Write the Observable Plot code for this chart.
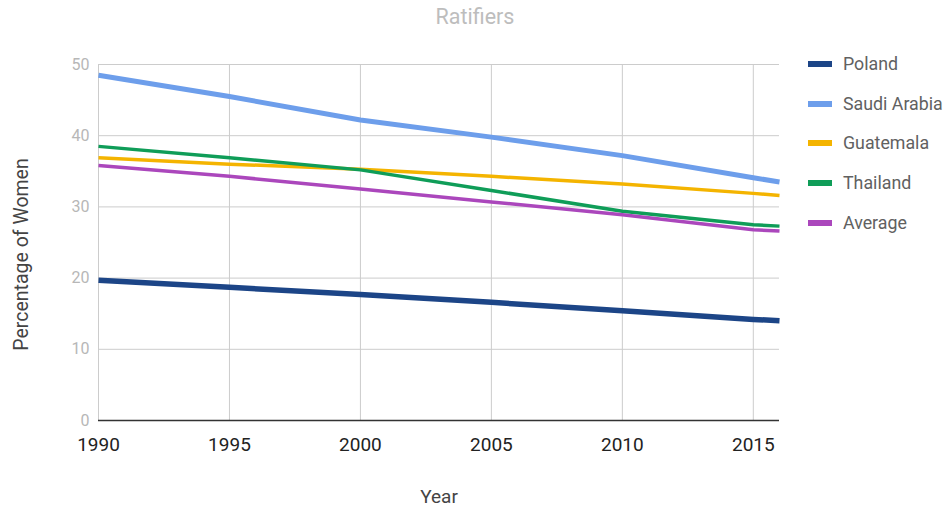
<!DOCTYPE html>
<html>
<head>
<meta charset="utf-8">
<script src="https://cdn.jsdelivr.net/npm/d3@7"></script>
<script src="https://cdn.jsdelivr.net/npm/@observablehq/plot@0.6"></script>
<style>
  html, body { margin: 0; padding: 0; background: #fff; }
  #wrap { position: relative; width: 948px; height: 512px; font-family: Roboto, "Noto Sans", sans-serif; }
  #title { position: absolute; left: 0; width: 950px; top: 4px; text-align: center; font-size: 21.5px; color: #bdbdbd; }
  #legend { position: absolute; left: 808px; top: 0; }
  .item { position: absolute; left: 0; white-space: nowrap; font-size: 17.8px; color: #616161; height: 20px; line-height: 20px; }
  .sw { display: inline-block; width: 24px; height: 6px; vertical-align: middle; margin-right: 11px; position: relative; top: -1px; }
</style>
</head>
<body>
<div id="wrap">
  <div id="chart"></div>
  <div id="title">Ratifiers</div>
  <div id="legend"></div>
</div>
<script>
const years = [1990, 1995, 2000, 2005, 2010, 2015, 2016];
const seriesNames = ["Poland", "Saudi Arabia", "Guatemala", "Thailand", "Average"];
const poland      = [19.7, 18.7, 17.7, 16.6, 15.4, 14.2, 14.0];
const saudiArabia = [48.5, 45.5, 42.2, 39.8, 37.2, 34.1, 33.5];
const guatemala   = [36.9, 36.0, 35.3, 34.3, 33.2, 31.9, 31.6];
const thailand    = [38.5, 36.9, 35.2, 32.3, 29.4, 27.5, 27.3];
const average     = [35.8, 34.3, 32.5, 30.7, 28.9, 26.8, 26.6];
const xTicks = [1990, 1995, 2000, 2005, 2010, 2015];
const yTicks = [0, 10, 20, 30, 40, 50];
const colors = ["#1c4587", "#6d9eeb", "#f4b400", "#0f9d58", "#ab47bc"];
const widths = [5.5, 5, 3.5, 3.5, 3.5];

const seriesValues = [poland, saudiArabia, guatemala, thailand, average];
const table = [];
seriesNames.forEach((name, s) => {
  years.forEach((yr, i) => table.push({series: name, year: yr, value: seriesValues[s][i]}));
});

const lineMarks = seriesNames.map((name, s) =>
  Plot.line(table.filter(d => d.series === name), {
    x: "year", y: "value", stroke: colors[s], strokeWidth: widths[s], strokeLinejoin: "round", strokeLinecap: "butt"
  })
);

const chart = Plot.plot({
  width: 948,
  height: 512,
  marginLeft: 98,
  marginRight: 169,
  marginTop: 64,
  marginBottom: 92,
  style: { fontFamily: "Roboto, 'Noto Sans', sans-serif", background: "#fff" },
  x: { domain: [1990, 2016], label: null },
  y: { domain: [0, 50], label: null },
  marks: [
    Plot.gridY(yTicks.filter(t => t > 0), { stroke: "#cccccc", strokeOpacity: 1, strokeWidth: 1 }),
    Plot.gridX(xTicks, { stroke: "#cccccc", strokeOpacity: 1, strokeWidth: 1 }),
    Plot.axisY(yTicks, { tickSize: 0, tickPadding: 9, fontSize: 16, fill: "#b7b7b7", label: null }),
    Plot.axisX(xTicks, { tickSize: 0, tickPadding: 17, fontSize: 19, fill: "#222", tickFormat: d => String(d), label: null }),
    Plot.text(["Percentage of Women"], { frameAnchor: "left", textAnchor: "middle", dx: -77, dy: 12, rotate: -90, fontSize: 19.5, fill: "#444" }),
    Plot.text(["Year"], { frameAnchor: "bottom", dy: 82, fontSize: 19, fill: "#444" }),
    ...lineMarks,
    Plot.ruleY([0], { stroke: "#333", strokeWidth: 1.5 })
  ]
});
document.getElementById("chart").appendChild(chart);

const legendY = [64, 104, 143, 183, 223];
const legend = document.getElementById("legend");
seriesNames.forEach((name, s) => {
  const div = document.createElement("div");
  div.className = "item";
  div.style.top = (legendY[s] - 10) + "px";
  div.innerHTML = `<span class="sw" style="background:${colors[s]}"></span>${name}`;
  legend.appendChild(div);
});
</script>
</body>
</html>
